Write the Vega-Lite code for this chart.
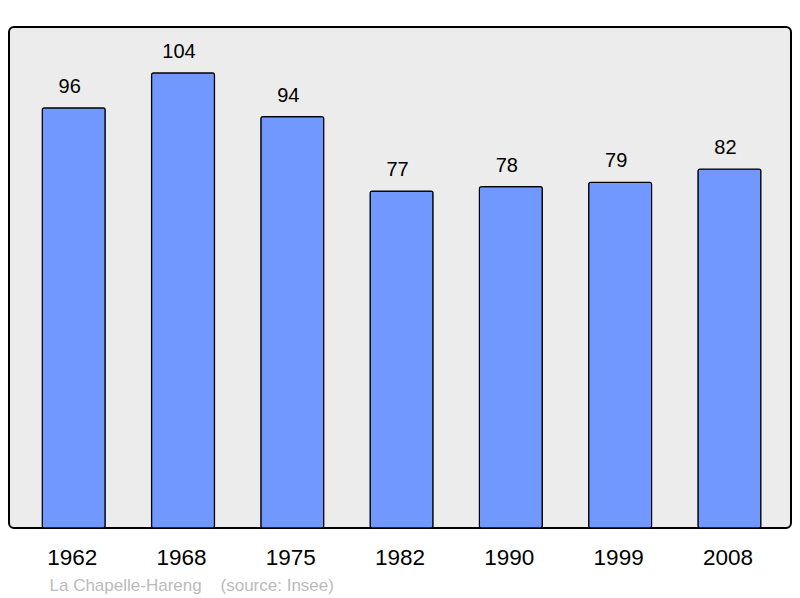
{
  "$schema": "https://vega.github.io/schema/vega-lite/v6.json",
  "width": 782,
  "height": 501,
  "autosize": "none",
  "padding": {"left": 9, "top": 27, "right": 9, "bottom": 70},
  "background": "white",
  "config": {
    "view": {"fill": "#ececec", "stroke": "black", "strokeWidth": 2, "cornerRadius": 5},
    "font": "Liberation Sans"
  },
  "data": {
    "values": [
      {"year": "1962", "pop": 96},
      {"year": "1968", "pop": 104},
      {"year": "1975", "pop": 94},
      {"year": "1982", "pop": 77},
      {"year": "1990", "pop": 78},
      {"year": "1999", "pop": 79},
      {"year": "2008", "pop": 82}
    ]
  },
  "encoding": {
    "x": {
      "field": "year",
      "type": "ordinal",
      "scale": {"paddingInner": 0.424, "paddingOuter": 0.29, "align": 0.525},
      "axis": {
        "title": "La Chapelle-Hareng\u00a0\u00a0\u00a0\u00a0(source: Insee)",
        "titleFont": "Liberation Sans",
        "titleFontSize": 17,
        "titleFontWeight": "normal",
        "titleColor": "#bbbbbb",
        "titleAnchor": "start",
        "titleAlign": "left",
        "titleBaseline": "alphabetic",
        "titleX": 40,
        "titleY": 62,
        "labelAngle": 0,
        "labelFontSize": 22.5,
        "labelColor": "black",
        "labelBaseline": "alphabetic",
        "labelPadding": 36,
        "labelOffset": -1.5,
        "ticks": false,
        "domain": false
      }
    },
    "y": {
      "field": "pop",
      "type": "quantitative",
      "scale": {"domain": [0, 114.5], "nice": false},
      "axis": null
    }
  },
  "layer": [
    {
      "mark": {"type": "bar", "fill": "#7098ff", "stroke": "black", "strokeWidth": 1.2, "cornerRadius": 2}
    },
    {
      "mark": {"type": "text", "fontSize": 20, "baseline": "alphabetic", "dx": -4, "dy": -15, "color": "black"},
      "encoding": {"text": {"field": "pop", "type": "quantitative"}}
    }
  ]
}
